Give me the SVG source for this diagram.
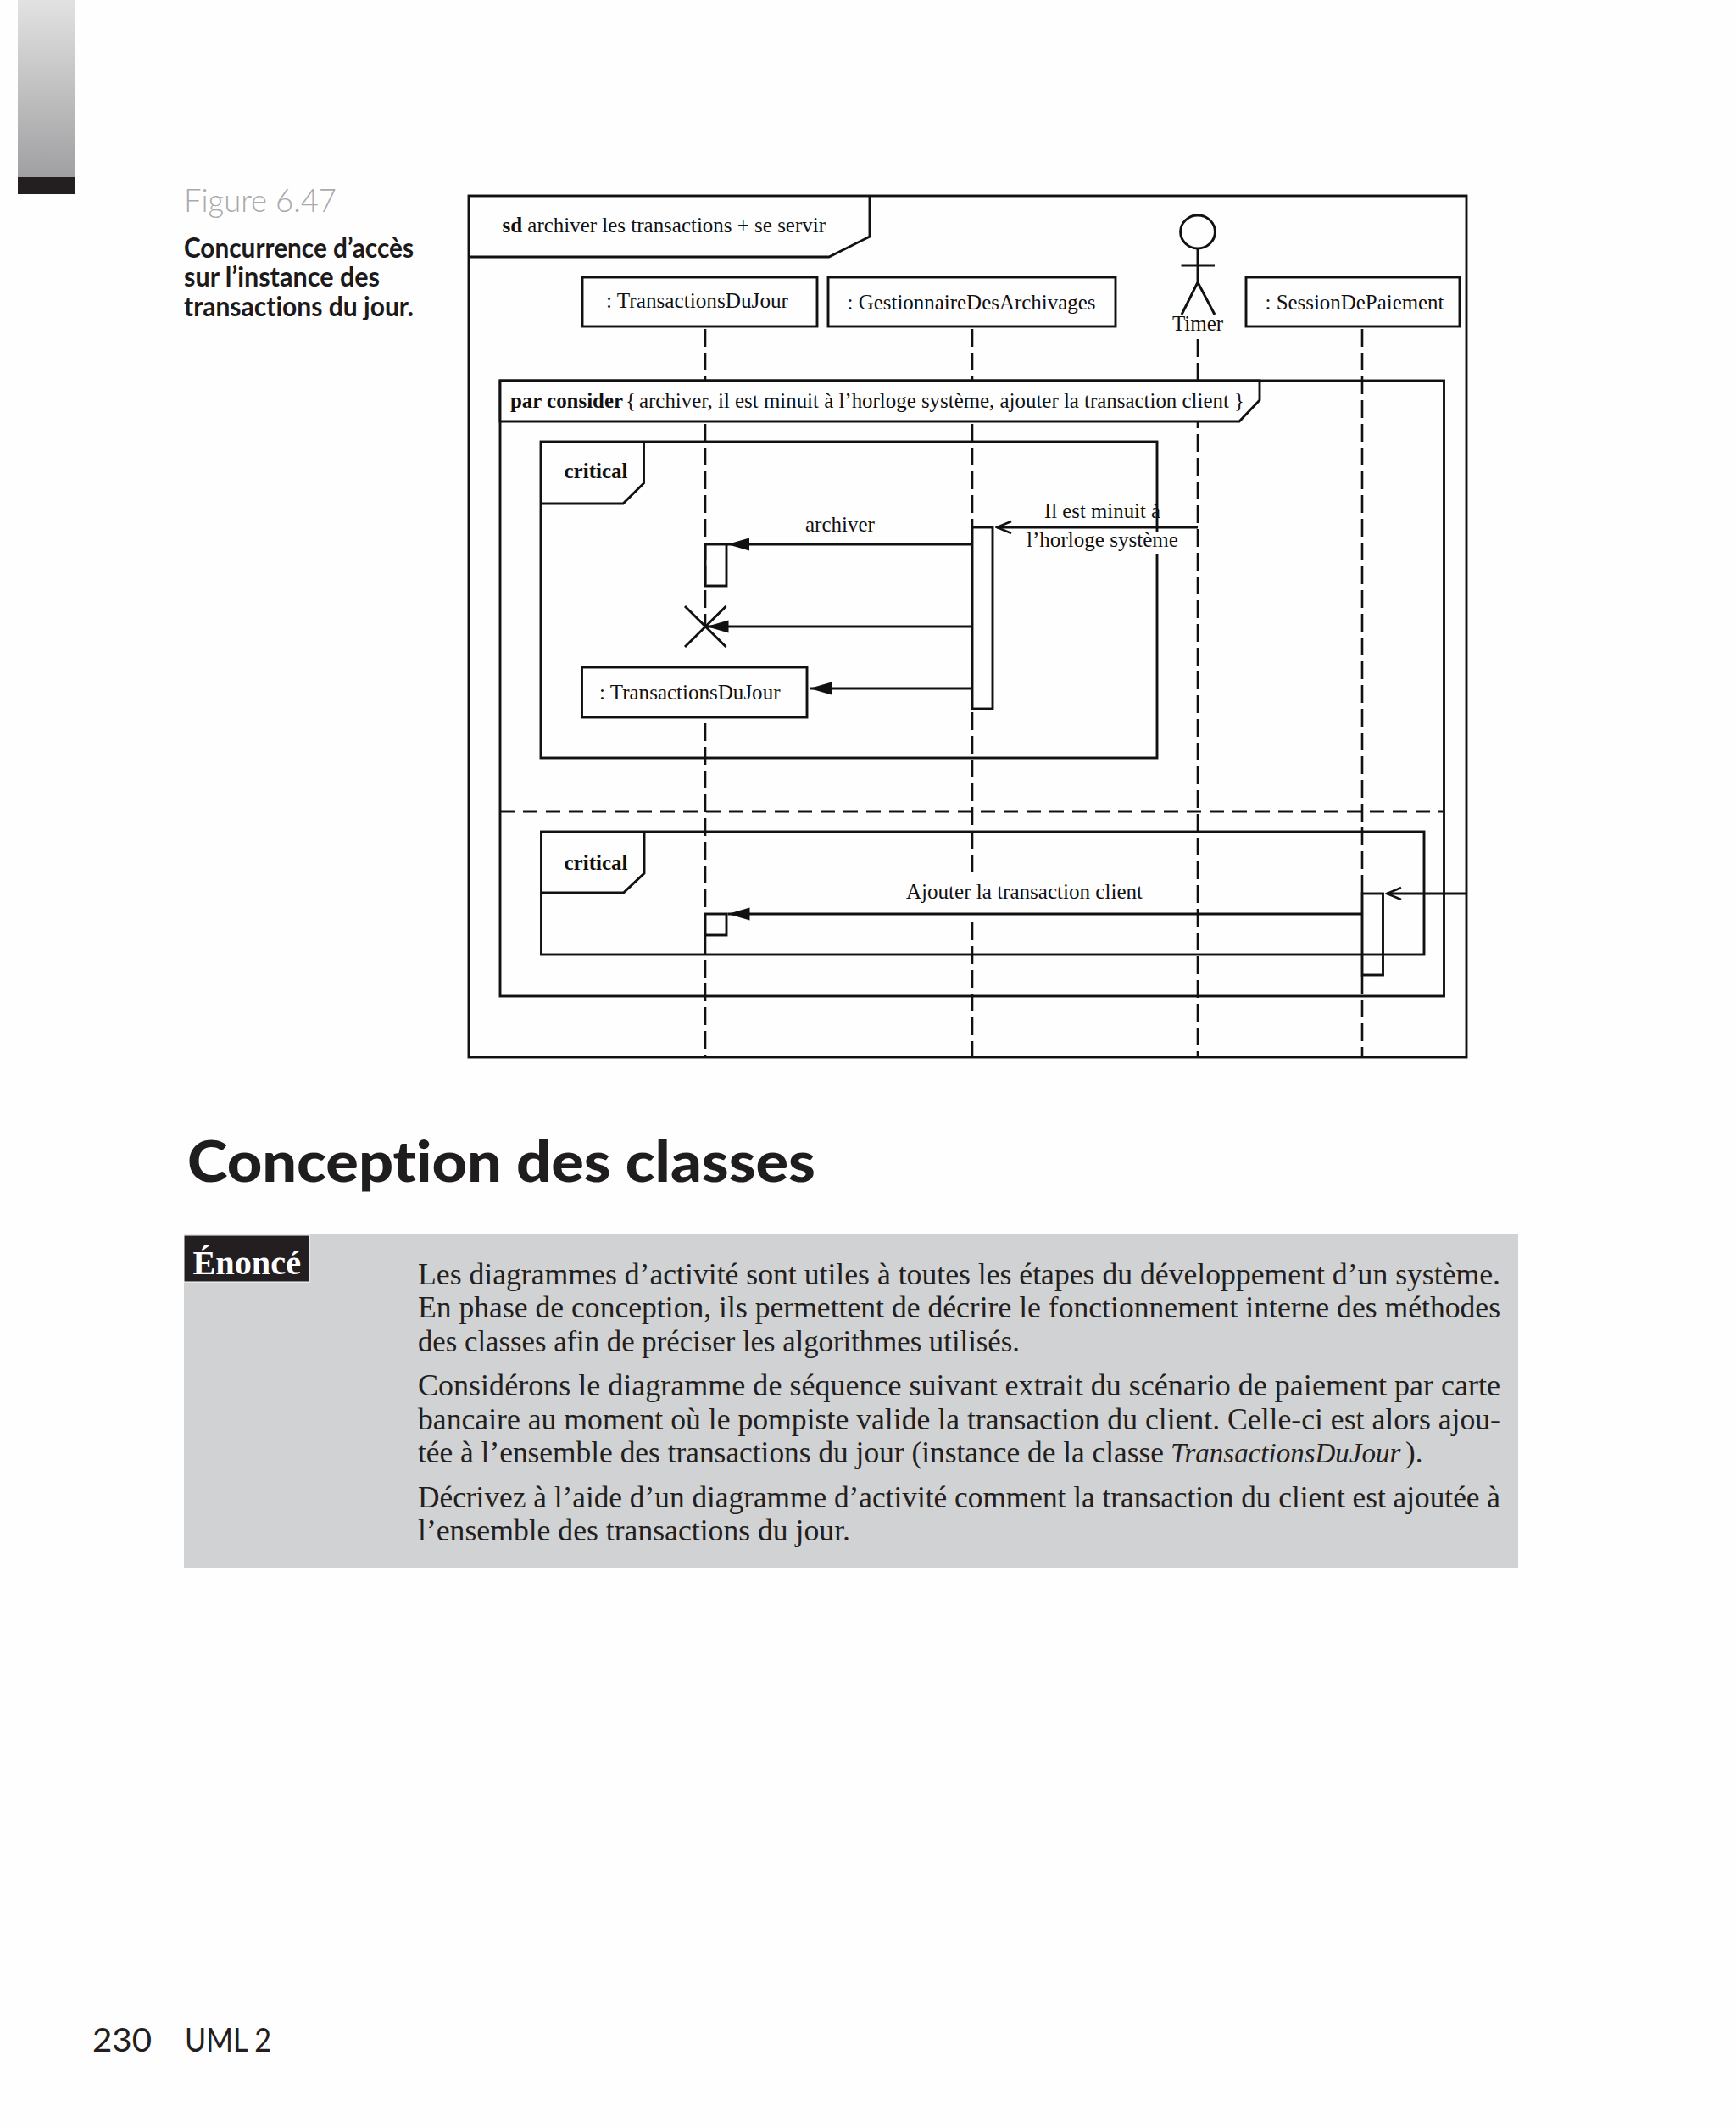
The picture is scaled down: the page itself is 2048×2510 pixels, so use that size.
<svg xmlns="http://www.w3.org/2000/svg" width="2048" height="2510" viewBox="0 0 2048 2510">
<style>
.ln{fill:none;stroke:#111;stroke-width:2.9}
.wf{fill:#fefefe;stroke:#111;stroke-width:2.9}
.ll{fill:none;stroke:#111;stroke-width:2.6;stroke-dasharray:21 7}
.msg{fill:none;stroke:#111;stroke-width:2.9}
.t{font-family:"Liberation Serif",serif;font-size:25px;fill:#111}
.b{font-weight:700}
.body{font-family:"Liberation Serif",serif;font-size:35px;fill:#231f20}
.sans{font-family:Lato,"Open Sans",sans-serif;font-variant-ligatures:none}
</style>
<defs>
<linearGradient id="tabGrad" x1="0" y1="0" x2="0" y2="1"><stop offset="0" stop-color="#e2e2e2"/><stop offset="1" stop-color="#a0a0a2"/></linearGradient>
<marker id="solid" markerUnits="userSpaceOnUse" markerWidth="28" markerHeight="18" refX="26" refY="8" orient="auto"><polygon points="0,0.5 26,8 0,15.5" fill="#111"/></marker>
<marker id="open" markerUnits="userSpaceOnUse" markerWidth="20" markerHeight="18" refX="18" refY="8" orient="auto"><polyline points="1,1 18,8 1,15" fill="none" stroke="#111" stroke-width="2.6"/></marker>
</defs>
<rect width="2048" height="2510" fill="#fefefe"/>
<g id="page-tab"><rect x="21" y="0" width="67.500" height="209" fill="url(#tabGrad)"/><rect x="21" y="209" width="67.500" height="20" fill="#231f20"/></g>
<g id="caption">
<text class="sans" x="217" y="250" font-size="37" font-weight="300" fill="#a9aaac" textLength="180" lengthAdjust="spacingAndGlyphs">Figure 6.47</text>
<text class="sans" x="217" y="304" font-size="32" font-weight="700" fill="#1c1a1b" textLength="271" lengthAdjust="spacingAndGlyphs">Concurrence d’accès</text>
<text class="sans" x="217" y="338" font-size="32" font-weight="700" fill="#1c1a1b" textLength="231" lengthAdjust="spacingAndGlyphs">sur l’instance des</text>
<text class="sans" x="217" y="373" font-size="32" font-weight="700" fill="#1c1a1b" textLength="271" lengthAdjust="spacingAndGlyphs">transactions du jour.</text>
</g>
<g id="frame-sd">
<rect class="ln" x="553" y="231" width="1177" height="1016"/>
<path class="ln" d="M553 303H978L1026 279V231"/>
<text class="t" x="592.500" y="274" textLength="381.500" lengthAdjust="spacingAndGlyphs"><tspan class="b">sd</tspan> archiver les transactions + se servir</text>
</g>
<g id="frame-critical-1">
<rect class="ln" x="638" y="521" width="727" height="373"/>
<path class="ln" d="M638 594H735L759.500 570V521"/>
<text class="t b" x="665.500" y="564">critical</text>
</g>
<g id="frame-critical-2">
<rect class="ln" x="638.500" y="981" width="1041.500" height="145"/>
<path class="ln" d="M638.500 1053H735.500L760 1030V981"/>
<text class="t b" x="665.500" y="1026">critical</text>
</g>
<g id="frame-par">
<rect class="ln" x="590" y="449" width="1113.500" height="726"/>
<line x1="590" y1="957" x2="1703" y2="957" fill="none" stroke="#111" stroke-width="2.900" stroke-dasharray="17 10"/>
</g>
<g id="lifelines">
<line class="ll" x1="832" y1="388" x2="832" y2="739"/>
<line class="ll" x1="832" y1="853" x2="832" y2="1078"/>
<line class="ll" x1="832" y1="1104" x2="832" y2="1247"/>
<line class="ll" x1="1147" y1="388" x2="1147" y2="622"/>
<line class="ll" x1="1147" y1="840" x2="1147" y2="1028"/>
<line class="ll" x1="1147" y1="1088" x2="1147" y2="1247"/>
<line class="ll" x1="1413" y1="400" x2="1413" y2="1247"/>
<line class="ll" x1="1607" y1="388" x2="1607" y2="1054"/>
<line class="ll" x1="1607" y1="1151" x2="1607" y2="1247"/>
</g>
<g id="par-tab">
<path class="wf" d="M590 449H1486V472L1462 497H590Z"/>
<text class="t b" x="602" y="481" textLength="133" lengthAdjust="spacingAndGlyphs">par consider</text>
<text class="t" x="738" y="481">{</text>
<text class="t" x="754" y="481" textLength="714" lengthAdjust="spacingAndGlyphs">archiver, il est minuit à l’horloge système, ajouter la transaction client }</text>
</g>
<g id="obj-transactions"><rect class="ln" x="687" y="327" width="277" height="58"/><text class="t" x="715" y="363" textLength="215" lengthAdjust="spacingAndGlyphs">: TransactionsDuJour</text></g>
<g id="obj-gestionnaire"><rect class="ln" x="977" y="327" width="339" height="58"/><text class="t" x="999.500" y="365" textLength="293" lengthAdjust="spacingAndGlyphs">: GestionnaireDesArchivages</text></g>
<g id="actor-timer">
<ellipse class="ln" cx="1413" cy="273.500" rx="20.400" ry="19.500"/>
<path class="ln" d="M1413 293V333M1393.500 313H1433M1394 371L1413 333L1433 371"/>
<text class="t" x="1413" y="390" text-anchor="middle">Timer</text>
</g>
<g id="obj-session"><rect class="ln" x="1470" y="327" width="252" height="58"/><text class="t" x="1492.500" y="365" textLength="211" lengthAdjust="spacingAndGlyphs">: SessionDePaiement</text></g>
<g id="obj-transactions-new"><rect class="ln" x="686.500" y="787" width="265.500" height="59"/><text class="t" x="707" y="825" textLength="213.500" lengthAdjust="spacingAndGlyphs">: TransactionsDuJour</text></g>
<g id="activations">
<rect class="ln" x="1147" y="622" width="24" height="214"/>
<rect class="ln" x="832" y="642" width="25" height="49"/>
<rect class="ln" x="832" y="1078" width="25" height="25"/>
<rect class="ln" x="1607" y="1054" width="24.500" height="96"/>
</g>
<g id="destroy"><path class="ln" d="M808 715L856.500 763M856.500 715L808 763"/></g>
<g id="connectors">
<line class="msg" x1="1147" y1="642" x2="858" y2="642" marker-end="url(#solid)"/>
<line class="msg" x1="1147" y1="739" x2="833.500" y2="739" marker-end="url(#solid)"/>
<line class="msg" x1="1147" y1="812" x2="955" y2="812" marker-end="url(#solid)"/>
<line class="msg" x1="1607" y1="1078" x2="858.500" y2="1078" marker-end="url(#solid)"/>
<line class="msg" x1="1413" y1="622" x2="1176" y2="622" marker-end="url(#open)"/>
<line class="msg" x1="1730" y1="1054" x2="1636" y2="1054" marker-end="url(#open)"/>
</g>
<g id="labels">
<text class="t" x="950" y="627">archiver</text>
<rect x="1340" y="628" width="52" height="25" fill="#fefefe"/>
<text class="t" x="1232" y="611" textLength="137" lengthAdjust="spacingAndGlyphs">Il est minuit à</text>
<text class="t" x="1211" y="645" textLength="179" lengthAdjust="spacingAndGlyphs">l’horloge système</text>
<text class="t" x="1069" y="1060" textLength="279" lengthAdjust="spacingAndGlyphs">Ajouter la transaction client</text>
</g>
<g id="heading"><text class="sans" x="221" y="1394" font-size="66" font-weight="900" fill="#1f1d1e" textLength="741" lengthAdjust="spacingAndGlyphs">Conception des classes</text></g>
<g id="statement">
<rect x="217" y="1456" width="1574" height="394" fill="#d1d2d4"/>
<rect x="217" y="1457" width="148" height="55" fill="#231f20" stroke="#fefefe" stroke-width="1"/>
<text x="227.500" y="1502.500" font-family="Liberation Serif, serif" font-size="39" font-weight="700" fill="#fefefe" textLength="127.500" lengthAdjust="spacingAndGlyphs">Énoncé</text>
<text class="body" x="493" y="1515" textLength="1277" lengthAdjust="spacingAndGlyphs">Les diagrammes d’activité sont utiles à toutes les étapes du développement d’un système.</text>
<text class="body" x="493" y="1554" textLength="1277" lengthAdjust="spacingAndGlyphs">En phase de conception, ils permettent de décrire le fonctionnement interne des méthodes</text>
<text class="body" x="493" y="1594" textLength="710" lengthAdjust="spacingAndGlyphs">des classes afin de préciser les algorithmes utilisés.</text>
<text class="body" x="493" y="1646" textLength="1277" lengthAdjust="spacingAndGlyphs">Considérons le diagramme de séquence suivant extrait du scénario de paiement par carte</text>
<text class="body" x="493" y="1686" textLength="1277" lengthAdjust="spacingAndGlyphs">bancaire au moment où le pompiste valide la transaction du client. Celle-ci est alors ajou-</text>
<text class="body" x="493" y="1725" textLength="880" lengthAdjust="spacingAndGlyphs">tée à l’ensemble des transactions du jour (instance de la classe</text>
<text class="body" x="1381" y="1725" font-style="italic" style="font-size:33px">TransactionsDuJour</text>
<text class="body" x="1658" y="1725">).</text>
<text class="body" x="493" y="1778" textLength="1277" lengthAdjust="spacingAndGlyphs">Décrivez à l’aide d’un diagramme d’activité comment la transaction du client est ajoutée à</text>
<text class="body" x="493" y="1817" textLength="510" lengthAdjust="spacingAndGlyphs">l’ensemble des transactions du jour.</text>
</g>
<g id="footer">
<text class="sans" x="109" y="2420" font-size="38" font-weight="400" fill="#231f20" textLength="70" lengthAdjust="spacingAndGlyphs">230</text>
<text class="sans" x="218" y="2420" font-size="38" font-weight="400" fill="#231f20" textLength="102" lengthAdjust="spacingAndGlyphs">UML 2</text>
</g>
</svg>
